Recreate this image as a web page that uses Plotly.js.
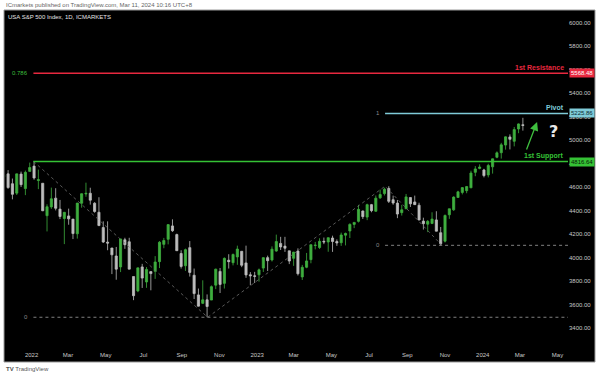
<!DOCTYPE html>
<html><head><meta charset="utf-8">
<script src="https://cdn.plot.ly/plotly-3.0.1.min.js"></script>
<style>html,body{margin:0;padding:0;background:#fff;}#c{width:600px;height:376px;}</style>
</head><body><div id="c"></div>
<script>
// Weekly candles (week centre dates generated from first week)
const firstWeek = '2021-11-17';
const opens = [4689,4712,4628,4548,4710,4587,4733,4778,4655,4632,4356,4431,4505,4412,4332,4354,4327,4202,4462,4541,4547,4462,4385,4255,4131,4081,4013,3920,4151,4134,3838,3716,3920,3792,3880,3883,3965,4112,4155,4269,4195,4034,3930,4084,3849,3682,3610,3640,3638,3765,3882,3780,3977,3956,4005,4053,3954,3853,3844,3853,3910,3999,3979,4055,4120,4097,4057,3993,4055,3835,3917,3982,4102,4085,4138,4132,4166,4136,4126,4190,4226,4282,4308,4396,4344,4450,4394,4508,4544,4588,4492,4463,4382,4415,4510,4473,4445,4310,4284,4290,4320,4211,4139,4364,4406,4511,4554,4569,4593,4725,4758,4745,4703,4772,4853,4892,4957,5026,4989,5094,5130];
const highs = [4718,4744,4672,4713,4731,4740,4808,4818,4748,4632,4453,4595,4590,4490,4385,4416,4327,4465,4546,4637,4594,4471,4513,4308,4308,4081,4090,4159,4168,4168,3838,3913,3946,3919,3880,4012,4140,4167,4280,4325,4203,4062,4076,4140,3906,3736,3806,3686,3762,3905,3911,4001,4028,4034,4101,4053,4101,3876,3878,3906,4003,4016,4095,4195,4176,4176,4057,4048,4078,3937,4039,4110,4133,4164,4170,4170,4186,4154,4212,4212,4291,4299,4448,4400,4458,4456,4528,4578,4594,4607,4527,4490,4448,4541,4514,4527,4466,4339,4319,4385,4394,4260,4366,4415,4521,4568,4599,4609,4739,4778,4793,4755,4798,4842,4903,4976,5030,5048,5111,5141,5189];
const lows = [4672,4585,4495,4532,4600,4531,4733,4662,4582,4395,4222,4414,4401,4327,4114,4279,4157,4161,4424,4517,4450,4381,4267,4124,4062,3859,3811,3876,4074,3900,3637,3705,3741,3742,3721,3818,3910,4079,4112,4218,4057,3906,3886,3838,3647,3584,3604,3492,3638,3731,3698,3736,3906,3933,3938,3918,3827,3764,3783,3795,3877,3885,3966,4049,4064,4048,3944,3929,3847,3809,3909,3951,4069,4072,4114,4049,4048,4099,4099,4103,4166,4250,4298,4328,4318,4385,4389,4499,4528,4464,4449,4335,4357,4414,4430,4448,4316,4238,4216,4284,4223,4103,4128,4329,4397,4511,4537,4547,4593,4692,4751,4682,4682,4714,4845,4842,4918,4920,4946,5058,5080];
const closes = [4698,4595,4538,4712,4620,4725,4766,4677,4662,4398,4432,4500,4419,4349,4385,4329,4204,4463,4543,4546,4488,4392,4272,4132,4123,4023,3901,4158,4109,3901,3675,3912,3825,3899,3863,3962,4130,4145,4280,4228,4058,3924,4067,3873,3693,3586,3640,3583,3752,3901,3771,3993,3965,4026,4072,3934,3852,3845,3840,3895,3999,3973,4071,4136,4090,4079,3970,4046,3862,3917,3971,4109,4105,4138,4133,4169,4136,4124,4192,4205,4282,4299,4410,4348,4450,4399,4505,4536,4582,4478,4464,4370,4406,4516,4457,4450,4320,4288,4308,4327,4224,4117,4358,4415,4514,4559,4595,4604,4719,4754,4770,4697,4784,4840,4891,4959,5027,5006,5089,5137,5124];

// Pattern swing points (dotted trend lines)
const swingDates = ['2022-01-04','2022-10-13','2023-07-27','2023-10-27'];
const swingPrices = [4818.6,3491.6,4607.1,4103.8];

// Horizontal levels
const levelNames = ['1st Resistance','Pivot','1st Support'];
const levelValues = [5568.48,5225.86,4816.64];
const levelStarts = ['2022-01-04','2023-07-27','2022-01-04'];
const levelColors = ['#e8283f','#7fcbd8','#35c235'];
const levelTextColors = ['#fff','#0a2a33','#062006'];

// Fib marks
const fibLabels = ['0.786','0','0','1'];
const fibValues = [5568.48,3491.6,4103.8,5225.86];
const fibStarts = ['2022-01-04','2022-01-04','2023-07-27','2023-07-27'];
const fibColors = ['#3cbf3c','#8a8a8a','#8a8a8a','#8a8a8a'];

// Axis ticks
const yTicks = [3400,3600,3800,4000,4200,4400,4600,4800,5000,5200,5400,5600,5800,6000];
const xTickVals = ['2022-01-01','2022-03-01','2022-05-01','2022-07-01','2022-09-01','2022-11-01','2023-01-01','2023-03-01','2023-05-01','2023-07-01','2023-09-01','2023-11-01','2024-01-01','2024-03-01','2024-05-01'];
const xTickText = ['2022','Mar','May','Jul','Sep','Nov','2023','Mar','May','Jul','Sep','Nov','2024','Mar','May'];

const dates = opens.map((_, i) => {
  const d = new Date(firstWeek + 'T00:00:00Z');
  d.setUTCDate(d.getUTCDate() + 7 * i);
  return d.toISOString().slice(0, 10);
});

// plot-area pixel geometry
const L = 5, R = 568, T = 11, B = 344, W = 600, H = 376;
const px = x => (x - L) / (R - L);
const py = y => (B - y) / (B - T);
const FONT = 'Liberation Sans, Arial, sans-serif';

const traces = [
  {
    type: 'candlestick', x: dates, open: opens, high: highs, low: lows, close: closes,
    increasing: {line: {color: '#3fae3f', width: 0.8}, fillcolor: '#3fae3f'},
    decreasing: {line: {color: '#bdbdbd', width: 0.8}, fillcolor: '#bdbdbd'},
    whiskerwidth: 0, hoverinfo: 'skip', showlegend: false
  },
  {
    type: 'scatter', mode: 'lines', x: swingDates, y: swingPrices,
    line: {color: '#6e6e6e', width: 0.8, dash: 'dot'}, hoverinfo: 'skip', showlegend: false
  }
];

const shapes = [
  {type: 'rect', xref: 'paper', yref: 'paper', x0: px(4), x1: px(595), y0: py(362), y1: py(10),
   fillcolor: '#000', line: {color: '#9a9a9a', width: 1}, layer: 'below'}
];
levelValues.forEach((v, i) => shapes.push({
  type: 'line', xref: 'x', yref: 'y', x0: levelStarts[i], x1: '2024-07-01', y0: v, y1: v,
  line: {color: levelColors[i], width: 1.6}
}));
[1, 2].forEach(i => shapes.push({
  type: 'line', xref: 'x', yref: 'y', x0: fibStarts[i], x1: '2024-07-01', y0: fibValues[i], y1: fibValues[i],
  line: {color: '#808080', width: 1, dash: 'dot'}
}));

const annotations = [
  {xref: 'paper', yref: 'paper', x: px(4), y: py(4.5), xanchor: 'left', yanchor: 'middle', showarrow: false,
   text: 'ICmarkets published on TradingView.com, Mar 11, 2024 10:16 UTC+8', font: {family: FONT, size: 6, color: '#666'}},
  {xref: 'paper', yref: 'paper', x: px(6), y: py(17), xanchor: 'left', yanchor: 'middle', showarrow: false,
   text: 'USA S&P 500 Index, 1D, ICMARKETS', font: {family: FONT, size: 6, color: '#e6e6e6'}},
  {xref: 'paper', yref: 'paper', x: px(4), y: py(369.5), xanchor: 'left', yanchor: 'middle', showarrow: false,
   text: '<b>TV</b> TradingView', font: {family: FONT, size: 6, color: '#555'}},
  {xref: 'x', yref: 'y', x: '2024-03-29', y: 5153, ax: '2024-03-11', ay: 4906, axref: 'x', ayref: 'y',
   showarrow: true, arrowhead: 2, arrowsize: 1.3, arrowwidth: 1.3, arrowcolor: '#3fbf3f', text: ''},
  {xref: 'paper', yref: 'paper', x: px(553), y: py(131), xanchor: 'center', yanchor: 'middle', showarrow: false,
   text: '<b>?</b>', font: {family: 'DejaVu Sans, sans-serif', size: 16, color: '#e8e8e8'}}
];
levelValues.forEach((v, i) => {
  annotations.push({xref: 'paper', yref: 'y', x: 1, y: v, xanchor: 'right', yanchor: 'bottom', xshift: -2, yshift: 0,
    showarrow: false, text: '<b>' + levelNames[i] + '</b>', font: {family: FONT, size: 7, color: levelColors[i]}});
  annotations.push({xref: 'paper', yref: 'y', x: 1, y: v, xanchor: 'left', yanchor: 'middle', xshift: 1,
    showarrow: false, text: v.toFixed(2), bgcolor: levelColors[i], borderpad: 1,
    font: {family: FONT, size: 6, color: levelTextColors[i]}});
});
fibLabels.forEach((t, i) => annotations.push({
  xref: 'x', yref: 'y', x: fibStarts[i], y: fibValues[i], xanchor: 'right', yanchor: 'middle', xshift: -3,
  showarrow: false, text: t, font: {family: FONT, size: 6, color: fibColors[i]}
}));

const layout = {
  width: W, height: H,
  margin: {l: L, r: W - R, t: T, b: H - B},
  paper_bgcolor: '#fff', plot_bgcolor: '#000',
  showlegend: false,
  xaxis: {
    type: 'date', range: ['2021-11-19', '2024-05-18'], rangeslider: {visible: false},
    tickvals: xTickVals, ticktext: xTickText, showgrid: false, zeroline: false, showline: false, ticks: '',
    ticklabelstandoff: 6,
    tickfont: {family: FONT, size: 6, color: '#c8c8c8'}
  },
  yaxis: {
    side: 'right', range: [3264, 6098], tickvals: yTicks, ticktext: yTicks.map(v => v.toFixed(2)),
    showgrid: false, zeroline: false, showline: false, ticks: '',
    tickfont: {family: FONT, size: 6, color: '#c8c8c8'}
  },
  shapes: shapes, annotations: annotations
};

Plotly.newPlot('c', traces, layout, {displayModeBar: false, staticPlot: true});
</script></body></html>
